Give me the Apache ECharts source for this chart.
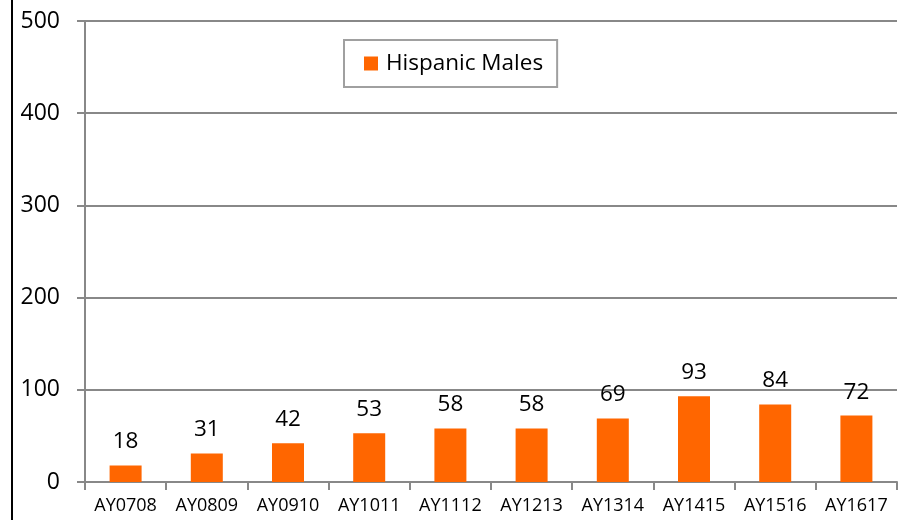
<!DOCTYPE html>
<html><head><meta charset="utf-8">
<script src="https://cdn.jsdelivr.net/npm/echarts@6/dist/echarts.min.js"></script>
<style>html,body{margin:0;padding:0;background:#fff}#c{width:910px;height:520px}</style>
</head><body><div id="c"></div>
<script>
const categories = ['AY0708','AY0809','AY0910','AY1011','AY1112','AY1213','AY1314','AY1415','AY1516','AY1617'];
const hispanicMales = [18,31,42,53,58,58,69,93,84,72];
const seriesName = 'Hispanic Males';
const yTicks = {min:0, max:500, interval:100};
const font = '"Open Sans", sans-serif';
const chart = echarts.init(document.getElementById('c'));
chart.setOption({
  animation:false,
  textStyle:{fontFamily:font},
  graphic:[{type:'line',shape:{x1:12,y1:0,x2:12,y2:520},style:{stroke:'#000',lineWidth:2}}],
  legend:{
    left:344, top:40,
    padding:[12,14,12,20],
    borderColor:'#a0a0a0', borderWidth:2,
    itemWidth:14, itemHeight:14, icon:'rect', itemGap:8,
    textStyle:{fontFamily:font, fontSize:22.5, color:'#000', padding:[0,0,0,3]},
    data:[seriesName]
  },
  grid:{left:85, right:13, top:21, bottom:38},
  xAxis:{
    type:'category', data:categories,
    axisLine:{lineStyle:{color:'#888',width:2}},
    axisTick:{show:true, length:8, interval:0, alignWithLabel:false, lineStyle:{color:'#888',width:2}},
    axisLabel:{color:'#000', fontSize:18, fontFamily:font, margin:15, interval:0, hideOverlap:false}
  },
  yAxis:{
    type:'value', min:yTicks.min, max:yTicks.max, interval:yTicks.interval,
    axisLine:{show:true, lineStyle:{color:'#888',width:2}},
    axisTick:{show:true, length:8, lineStyle:{color:'#888',width:2}},
    splitLine:{lineStyle:{color:'#888',width:2}},
    axisLabel:{color:'#000', fontSize:23, fontFamily:font, margin:25}
  },
  series:[{
    name:seriesName, type:'bar', data:hispanicMales, barWidth:32,
    itemStyle:{color:'#ff6600'},
    label:{show:true, position:'top', distance:12, color:'#000', fontSize:22.5, fontFamily:font}
  }]
});
</script></body></html>
